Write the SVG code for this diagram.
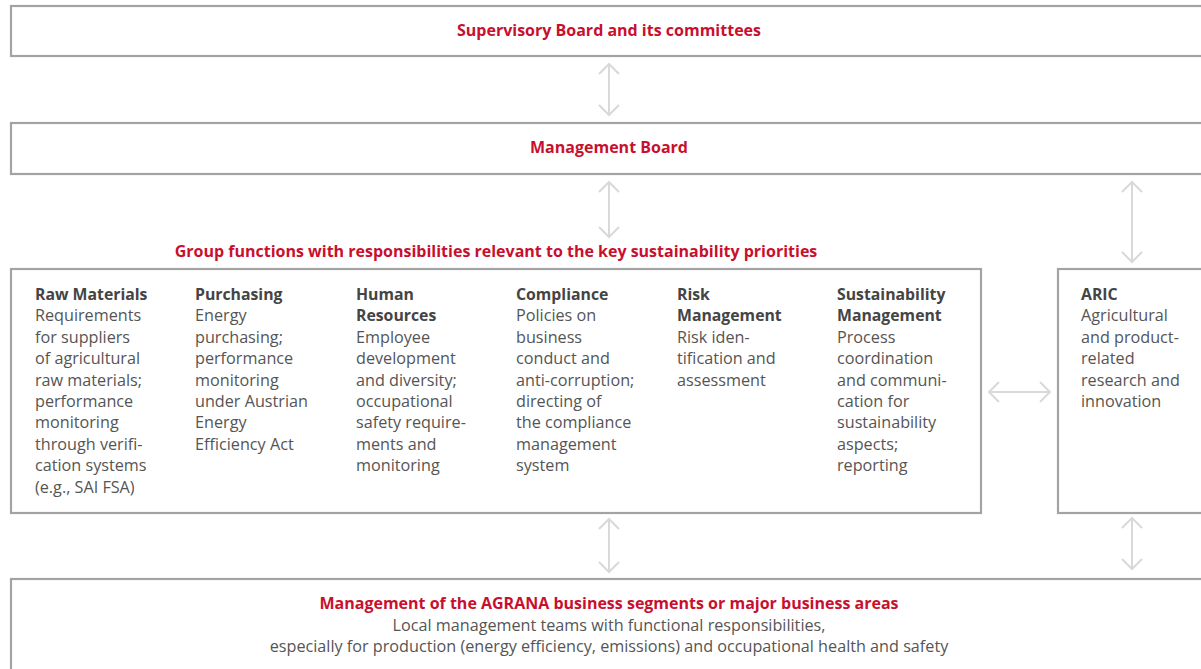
<svg xmlns="http://www.w3.org/2000/svg" width="1201" height="669" viewBox="0 0 1201 669">
<style>
.box{fill:#fff;stroke:#a3a3a3;stroke-width:2.2}
.arr{fill:none;stroke:#d9d9d9;stroke-width:2}
.t{font-family:"Open Sans","Noto Sans",sans-serif;font-size:16.2px;fill:#555}
.h{font-family:"Open Sans","Noto Sans",sans-serif;font-size:15.8px;font-weight:bold;fill:#444}
.r{font-family:"Open Sans","Noto Sans",sans-serif;font-size:16px;font-weight:bold;fill:#c8102e}
</style>
<rect width="1201" height="669" fill="#fff"/>
<g id="supervisory-board">
<rect class="box" x="11" y="6" width="1200" height="50"/>
<text class="r" x="609" y="36" text-anchor="middle">Supervisory Board and its committees</text>
</g>
<g id="management-board">
<rect class="box" x="11" y="123" width="1200" height="51"/>
<text class="r" x="609" y="153" text-anchor="middle">Management Board</text>
</g>
<g id="group-functions">
<text class="r" x="496" y="257" text-anchor="middle">Group functions with responsibilities relevant to the key sustainability priorities</text>
<rect class="box" x="11" y="269" width="970" height="244"/>
<text x="35" y="300"><tspan class="h" x="35">Raw Materials</tspan><tspan class="t" x="35" dy="21.4">Requirements</tspan><tspan class="t" x="35" dy="21.4">for suppliers</tspan><tspan class="t" x="35" dy="21.4">of agricultural</tspan><tspan class="t" x="35" dy="21.4">raw materials;</tspan><tspan class="t" x="35" dy="21.4">performance</tspan><tspan class="t" x="35" dy="21.4">monitoring</tspan><tspan class="t" x="35" dy="21.4">through verifi-</tspan><tspan class="t" x="35" dy="21.4">cation systems</tspan><tspan class="t" x="35" dy="21.4">(e.g., SAI FSA)</tspan></text>
<text x="195" y="300"><tspan class="h" x="195">Purchasing</tspan><tspan class="t" x="195" dy="21.4">Energy</tspan><tspan class="t" x="195" dy="21.4">purchasing;</tspan><tspan class="t" x="195" dy="21.4">performance</tspan><tspan class="t" x="195" dy="21.4">monitoring</tspan><tspan class="t" x="195" dy="21.4">under Austrian</tspan><tspan class="t" x="195" dy="21.4">Energy</tspan><tspan class="t" x="195" dy="21.4">Efficiency Act</tspan></text>
<text x="356" y="300"><tspan class="h" x="356">Human</tspan><tspan class="h" x="356" dy="21.4">Resources</tspan><tspan class="t" x="356" dy="21.4">Employee</tspan><tspan class="t" x="356" dy="21.4">development</tspan><tspan class="t" x="356" dy="21.4">and diversity;</tspan><tspan class="t" x="356" dy="21.4">occupational</tspan><tspan class="t" x="356" dy="21.4">safety require-</tspan><tspan class="t" x="356" dy="21.4">ments and</tspan><tspan class="t" x="356" dy="21.4">monitoring</tspan></text>
<text x="516" y="300"><tspan class="h" x="516">Compliance</tspan><tspan class="t" x="516" dy="21.4">Policies on</tspan><tspan class="t" x="516" dy="21.4">business</tspan><tspan class="t" x="516" dy="21.4">conduct and</tspan><tspan class="t" x="516" dy="21.4">anti-corruption;</tspan><tspan class="t" x="516" dy="21.4">directing of</tspan><tspan class="t" x="516" dy="21.4">the compliance</tspan><tspan class="t" x="516" dy="21.4">management</tspan><tspan class="t" x="516" dy="21.4">system</tspan></text>
<text x="677" y="300"><tspan class="h" x="677">Risk</tspan><tspan class="h" x="677" dy="21.4">Management</tspan><tspan class="t" x="677" dy="21.4">Risk iden-</tspan><tspan class="t" x="677" dy="21.4">tification and</tspan><tspan class="t" x="677" dy="21.4">assessment</tspan></text>
<text x="837" y="300"><tspan class="h" x="837">Sustainability</tspan><tspan class="h" x="837" dy="21.4">Management</tspan><tspan class="t" x="837" dy="21.4">Process</tspan><tspan class="t" x="837" dy="21.4">coordination</tspan><tspan class="t" x="837" dy="21.4">and communi-</tspan><tspan class="t" x="837" dy="21.4">cation for</tspan><tspan class="t" x="837" dy="21.4">sustainability</tspan><tspan class="t" x="837" dy="21.4">aspects;</tspan><tspan class="t" x="837" dy="21.4">reporting</tspan></text>
</g>
<g id="aric">
<rect class="box" x="1058" y="269" width="160" height="244"/>
<text x="1081" y="300"><tspan class="h" x="1081">ARIC</tspan><tspan class="t" x="1081" dy="21.4">Agricultural</tspan><tspan class="t" x="1081" dy="21.4">and product-</tspan><tspan class="t" x="1081" dy="21.4">related</tspan><tspan class="t" x="1081" dy="21.4">research and</tspan><tspan class="t" x="1081" dy="21.4">innovation</tspan></text>
</g>
<g id="business-segments">
<rect class="box" x="11" y="579" width="1200" height="100"/>
<text class="r" x="609" y="609" text-anchor="middle">Management of the AGRANA business segments or major business areas</text>
<text class="t" x="609" y="631" text-anchor="middle">Local management teams with functional responsibilities,</text>
<text class="t" x="609" y="652" text-anchor="middle">especially for production (energy efficiency, emissions) and occupational health and safety</text>
</g>
<g id="connectors">
<path class="arr" d="M609,64 V115 M599,74 L609,64 L619,74 M599,105 L609,115 L619,105"/>
<path class="arr" d="M609,182 V237 M599,192 L609,182 L619,192 M599,227 L609,237 L619,227"/>
<path class="arr" d="M609,519 V572 M599,529 L609,519 L619,529 M599,562 L609,572 L619,562"/>
<path class="arr" d="M1132,182 V262 M1122,192 L1132,182 L1142,192 M1122,252 L1132,262 L1142,252"/>
<path class="arr" d="M1132,518 V569 M1122,528 L1132,518 L1142,528 M1122,559 L1132,569 L1142,559"/>
<path class="arr" d="M989,392 H1050 M999,382 L989,392 L999,402 M1040,382 L1050,392 L1040,402"/>
</g>
</svg>
